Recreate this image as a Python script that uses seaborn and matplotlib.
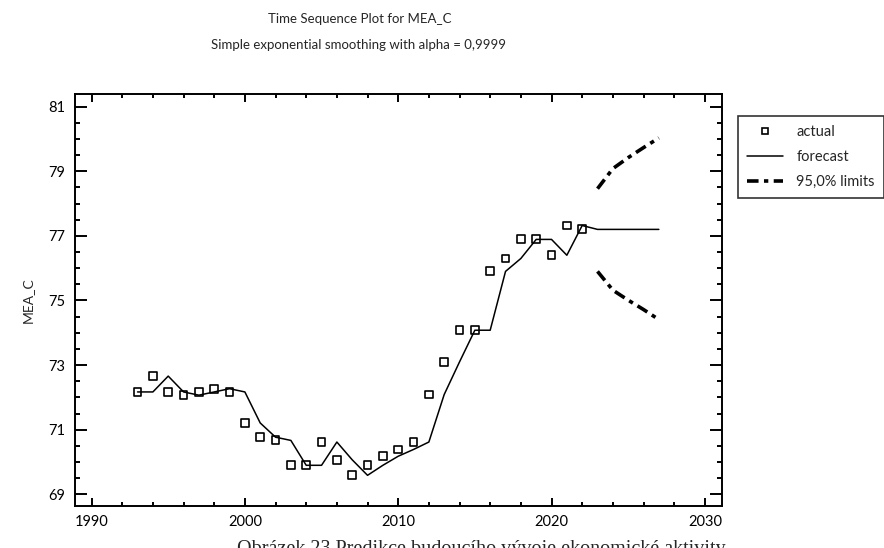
import matplotlib
matplotlib.use("Agg")
import matplotlib.pyplot as plt
from matplotlib.ticker import MultipleLocator
from matplotlib.lines import Line2D
import seaborn as sns
import pandas as pd

# Observed series (MEA_C)
years = [1993, 1994, 1995, 1996, 1997, 1998, 1999, 2000, 2001, 2002,
         2003, 2004, 2005, 2006, 2007, 2008, 2009, 2010, 2011, 2012,
         2013, 2014, 2015, 2016, 2017, 2018, 2019, 2020, 2021, 2022]
actual = [72.17, 72.66, 72.17, 72.07, 72.17, 72.27, 72.17, 71.21, 70.77, 70.67,
          69.90, 69.90, 70.62, 70.07, 69.59, 69.90, 70.18, 70.39, 70.62, 72.09,
          73.10, 74.08, 74.08, 75.90, 76.30, 76.89, 76.89, 76.40, 77.32, 77.20]

# One-step forecasts, then out-of-sample forecasts 2023-2027
forecast_years = [1993, 1994, 1995, 1996, 1997, 1998, 1999, 2000, 2001, 2002,
                  2003, 2004, 2005, 2006, 2007, 2008, 2009, 2010, 2011, 2012,
                  2013, 2014, 2015, 2016, 2017, 2018, 2019, 2020, 2021, 2022,
                  2023, 2024, 2025, 2026, 2027]
forecast = [72.17, 72.17, 72.66, 72.17, 72.07, 72.17, 72.27, 72.17, 71.21, 70.77,
            70.67, 69.90, 69.90, 70.62, 70.07, 69.59, 69.90, 70.18, 70.39, 70.62,
            72.09, 73.10, 74.08, 74.08, 75.90, 76.30, 76.89, 76.89, 76.40, 77.32,
            77.20, 77.20, 77.20, 77.20, 77.20]

# 95% limits
limit_years = [2023, 2024, 2025, 2026, 2027]
upper = [78.46, 79.08, 79.42, 79.73, 80.03]
lower = [75.90, 75.32, 75.01, 74.72, 74.41]

y_ticks = [69, 71, 73, 75, 77, 79, 81]
x_ticks = [1990, 2000, 2010, 2020, 2030]

df_act = pd.DataFrame({"Year": years, "Value": actual})
df_fc = pd.DataFrame({"Year": forecast_years, "Value": forecast})
df_up = pd.DataFrame({"Year": limit_years, "Value": upper})
df_lo = pd.DataFrame({"Year": limit_years, "Value": lower})

sns.set_style("ticks")
plt.rcParams["font.family"] = ["Lato", "DejaVu Sans"]

fig = plt.figure(figsize=(8.84, 5.48), dpi=100)
ax = fig.add_axes([0.0845, 0.0772, 0.7319, 0.7507])

dash = (0, (3.2, 1.5, 1.2, 1.5))
sns.lineplot(data=df_fc, x="Year", y="Value", ax=ax, color="black", linewidth=1.1)
sns.lineplot(data=df_up, x="Year", y="Value", ax=ax, color="black", linewidth=2.6, linestyle=dash)
sns.lineplot(data=df_lo, x="Year", y="Value", ax=ax, color="black", linewidth=2.6, linestyle=dash)
sns.scatterplot(data=df_act, x="Year", y="Value", ax=ax, marker="s", s=32,
                facecolor="none", edgecolor="black", linewidth=1.2, zorder=3)

ax.set_xlim(1988.9, 2031.1)
ax.set_ylim(68.65, 81.38)
ax.set_xticks(x_ticks)
ax.set_yticks(y_ticks)
ax.xaxis.set_minor_locator(MultipleLocator(2))
ax.yaxis.set_minor_locator(MultipleLocator(0.5))

ax.tick_params(which="both", direction="in", top=True, right=True, width=1.4,
               colors="black", labelsize=10.5)
ax.tick_params(axis="x", which="major", length=6, pad=7)
ax.tick_params(axis="x", which="minor", length=3)
ax.tick_params(axis="y", which="major", length=8.5, pad=7)
ax.tick_params(axis="y", which="minor", length=3.5)
for s in ax.spines.values():
    s.set_linewidth(1.4)
    s.set_color("black")

ax.set_xlabel("")
ax.set_ylabel("MEA_C", fontsize=10, labelpad=10)

fig.text(0.407, 0.965, "Time Sequence Plot for MEA_C", ha="center", va="center", fontsize=9.5)
fig.text(0.405, 0.918, "Simple exponential smoothing with alpha = 0,9999", ha="center", va="center", fontsize=9.5)

handles = [
    Line2D([], [], marker="s", linestyle="none", markerfacecolor="none",
           markeredgecolor="black", markersize=5, markeredgewidth=1.2),
    Line2D([], [], color="black", linewidth=1.1),
    Line2D([], [], color="black", linewidth=2.6, linestyle=dash),
]
fig.legend(handles, ["actual", "forecast", "95,0% limits"], loc="upper left",
           bbox_to_anchor=(0.835, 0.788), frameon=True, fancybox=False,
           edgecolor="black", fontsize=10.5, handlelength=2.5, labelspacing=0.75,
           borderpad=0.6, handletextpad=0.9, borderaxespad=0)
fig.legends[0].get_frame().set_linewidth(1.2)

fig.text(0.545, 0.015, "Obrázek 23 Predikce budoucího vývoje ekonomické aktivity",
         ha="center", va="top", fontsize=14.5, family=["Liberation Serif", "DejaVu Serif"])

fig.savefig("out.png", dpi=100)
